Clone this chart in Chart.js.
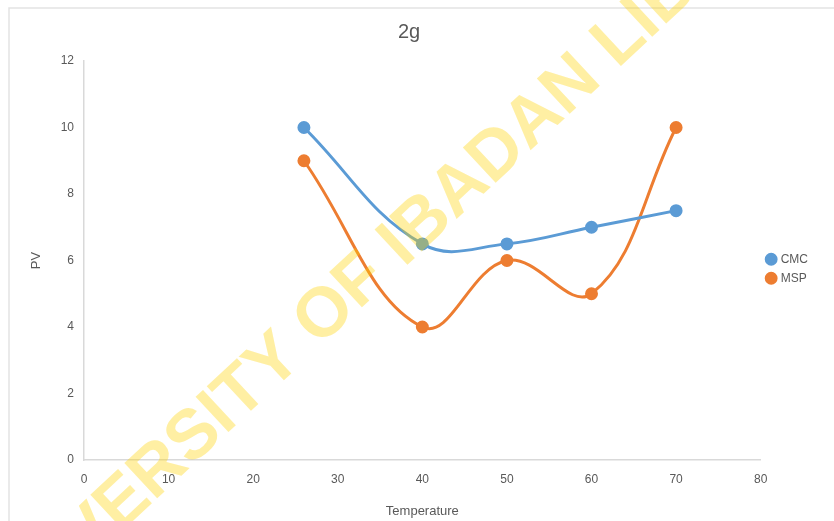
<!DOCTYPE html>
<html>
<head>
<meta charset="utf-8">
<script src="https://cdn.jsdelivr.net/npm/chart.js@4/dist/chart.umd.min.js"></script>
<style>
  html, body { margin: 0; padding: 0; background: #fff; }
  #wrap { width: 834px; height: 521px; }
</style>
</head>
<body>
<div id="wrap"><canvas id="grafico" width="834" height="521"></canvas></div>
<script>
const temperatura = [26, 40, 50, 60, 70];
const cmc = [10, 6.5, 6.5, 7, 7.5];
const msp = [9, 4, 6, 5, 10];
const marcaDagua = 'UNIVERSITY OF IBADAN LIBRARY';

const cinza = '#595959';
const fonte = 'Liberation Sans, Arial, sans-serif';

function pontos(ys) {
  return temperatura.map((x, i) => ({ x: x, y: ys[i] }));
}

// moldura cinza e marca d'agua por cima do grafico
const extras = {
  id: 'extras',
  beforeDraw(chart) {
    const c = chart.ctx;
    c.save();
    c.fillStyle = '#fff';
    c.fillRect(0, 0, chart.width, chart.height);
    c.strokeStyle = '#e3e3e3';
    c.lineWidth = 1.5;
    c.beginPath();
    c.moveTo(9, chart.height);
    c.lineTo(9, 8);
    c.lineTo(chart.width, 8);
    c.stroke();
    c.restore();
  },
  afterDraw(chart) {
    const c = chart.ctx;
    c.save();
    c.translate(407, 239);
    c.rotate(-43 * Math.PI / 180);
    c.font = 'bold 70px ' + fonte;
    c.textAlign = 'center';
    c.textBaseline = 'middle';
    c.fillStyle = 'rgba(255, 212, 0, 0.36)';
    c.fillText(marcaDagua, 0, 0);
    c.restore();
  }
};

new Chart(document.getElementById('grafico'), {
  type: 'line',
  data: {
    datasets: [
      {
        label: 'CMC',
        data: pontos(cmc),
        borderColor: '#5B9BD5',
        backgroundColor: '#5B9BD5',
        borderWidth: 3,
        pointRadius: 5,
        pointHoverRadius: 5,
        tension: 0.4
      },
      {
        label: 'MSP',
        data: pontos(msp),
        borderColor: '#ED7D31',
        backgroundColor: '#ED7D31',
        borderWidth: 3,
        pointRadius: 5,
        pointHoverRadius: 5,
        tension: 0.4
      }
    ]
  },
  options: {
    responsive: false,
    animation: false,
    layout: { padding: { left: 0, right: 16, top: 0, bottom: 0 } },
    plugins: {
      title: {
        display: true,
        text: '2g',
        color: cinza,
        font: { family: fonte, size: 20, weight: 'normal' },
        padding: { top: 20, bottom: 17 }
      },
      legend: {
        position: 'right',
        title: { display: true, text: ' ', padding: 1, font: { family: fonte, size: 12 } },
        labels: {
          usePointStyle: true,
          pointStyle: 'circle',
          boxWidth: 7,
          boxHeight: 7,
          padding: 7,
          color: cinza,
          font: { family: fonte, size: 12 }
        }
      },
      tooltip: { enabled: false }
    },
    scales: {
      x: {
        type: 'linear',
        min: 0,
        max: 80,
        ticks: { stepSize: 10, color: cinza, padding: 12, font: { family: fonte, size: 12 } },
        grid: { display: false, drawTicks: false },
        border: { color: '#d9d9d9', width: 1.5 },
        title: {
          display: true,
          text: 'Temperature',
          color: cinza,
          font: { family: fonte, size: 13 },
          padding: { top: 0, bottom: 2 }
        },
        afterFit(s) { s.height = 61; }
      },
      y: {
        min: 0,
        max: 12,
        ticks: { stepSize: 2, color: cinza, padding: 10, font: { family: fonte, size: 12 } },
        grid: { display: false, drawTicks: false },
        border: { color: '#d9d9d9', width: 1.5 },
        title: {
          display: true,
          text: 'PV',
          color: cinza,
          font: { family: fonte, size: 13 },
          padding: { top: 29, bottom: 0 }
        },
        afterFit(s) { s.width = 84; }
      }
    }
  },
  plugins: [extras]
});
</script>
</body>
</html>
